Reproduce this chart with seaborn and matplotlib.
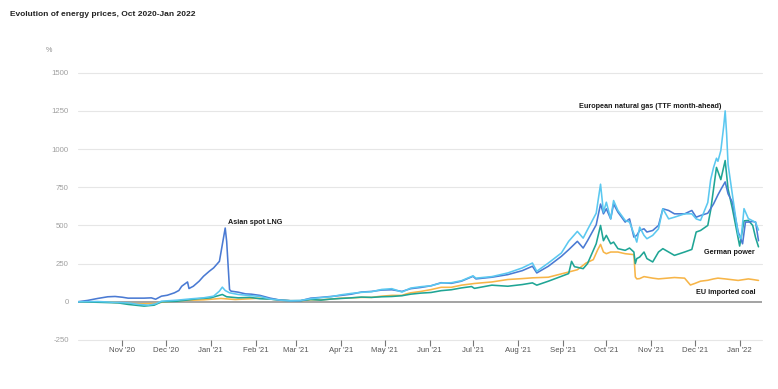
import numpy as np
import pandas as pd
import matplotlib
matplotlib.use("Agg")
import matplotlib.pyplot as plt
import seaborn as sns

# ---------------- data (values in % change) ----------------
lng_dates = ["2020-10-01", "2020-10-08", "2020-10-15", "2020-10-22", "2020-10-27", "2020-11-01",
             "2020-11-05", "2020-11-16", "2020-11-21", "2020-11-24", "2020-11-28", "2020-12-02",
             "2020-12-07", "2020-12-10", "2020-12-12", "2020-12-16", "2020-12-17", "2020-12-20",
             "2020-12-24", "2020-12-27", "2020-12-31", "2021-01-03", "2021-01-07", "2021-01-09",
             "2021-01-11", "2021-01-12", "2021-01-14", "2021-01-15", "2021-01-20", "2021-01-25",
             "2021-01-29", "2021-02-04", "2021-02-11", "2021-02-18", "2021-02-25", "2021-03-04",
             "2021-03-11", "2021-03-18", "2021-03-25", "2021-04-01", "2021-04-08", "2021-04-15",
             "2021-04-22", "2021-04-29", "2021-05-06", "2021-05-13", "2021-05-19", "2021-05-26",
             "2021-06-02", "2021-06-09", "2021-06-16", "2021-06-23", "2021-07-01", "2021-07-03",
             "2021-07-14", "2021-07-25", "2021-08-04", "2021-08-11", "2021-08-14", "2021-08-22",
             "2021-08-31", "2021-09-05", "2021-09-11", "2021-09-15", "2021-09-18", "2021-09-24",
             "2021-09-27", "2021-09-29", "2021-10-01", "2021-10-04", "2021-10-06", "2021-10-09",
             "2021-10-14", "2021-10-17", "2021-10-20", "2021-10-22", "2021-10-24", "2021-10-27",
             "2021-10-29", "2021-11-02", "2021-11-06", "2021-11-09", "2021-11-13", "2021-11-17",
             "2021-11-24", "2021-11-29", "2021-12-02", "2021-12-05", "2021-12-10", "2021-12-14",
             "2021-12-17", "2021-12-19", "2021-12-22", "2021-12-24", "2021-12-27", "2021-12-31",
             "2022-01-03", "2022-01-05", "2022-01-07", "2022-01-10", "2022-01-12", "2022-01-14"]
lng_values = [0, 9, 22, 33, 35, 30,
              24, 24, 26, 17, 37, 43,
              59, 74, 102, 130, 87, 102,
              135, 167, 200, 222, 265, 374,
              483, 396, 80, 70, 63, 52,
              50, 42, 24, 11, 7, 7,
              24, 29, 35, 42, 50, 64,
              68, 77, 79, 68, 86, 94,
              105, 125, 121, 135, 167, 150,
              161, 178, 204, 233, 189, 233,
              298, 341, 396, 352, 400, 504,
              640, 576, 609, 543, 641, 587,
              522, 543, 424, 435, 467, 478,
              457, 467, 500, 609, 598, 576,
              576, 598, 554, 565, 580, 641,
              700, 735, 785, 707, 652, 457,
              380, 522, 522, 526, 522, 400]

ttf_dates = ["2020-10-01", "2020-10-15", "2020-10-24", "2020-11-05", "2020-11-12", "2020-11-19",
             "2020-11-24", "2020-11-28", "2020-12-09", "2020-12-19", "2020-12-27", "2021-01-03",
             "2021-01-07", "2021-01-09", "2021-01-11", "2021-01-14", "2021-01-20", "2021-01-29",
             "2021-02-04", "2021-02-11", "2021-02-18", "2021-02-25", "2021-03-04", "2021-03-11",
             "2021-03-18", "2021-03-25", "2021-04-01", "2021-04-08", "2021-04-15", "2021-04-22",
             "2021-04-29", "2021-05-06", "2021-05-13", "2021-05-19", "2021-05-26", "2021-06-02",
             "2021-06-09", "2021-06-16", "2021-06-23", "2021-07-01", "2021-07-03", "2021-07-14",
             "2021-07-25", "2021-08-04", "2021-08-11", "2021-08-14", "2021-08-22", "2021-08-31",
             "2021-09-05", "2021-09-11", "2021-09-15", "2021-09-18", "2021-09-24", "2021-09-27",
             "2021-09-29", "2021-10-01", "2021-10-04", "2021-10-06", "2021-10-09", "2021-10-14",
             "2021-10-17", "2021-10-20", "2021-10-22", "2021-10-24", "2021-10-27", "2021-10-29",
             "2021-11-02", "2021-11-06", "2021-11-09", "2021-11-13", "2021-11-17", "2021-11-24",
             "2021-11-29", "2021-12-02", "2021-12-05", "2021-12-10", "2021-12-12", "2021-12-14",
             "2021-12-16", "2021-12-17", "2021-12-19", "2021-12-21", "2021-12-22", "2021-12-23",
             "2021-12-24", "2021-12-27", "2021-12-31", "2022-01-02", "2022-01-04", "2022-01-07",
             "2022-01-10", "2022-01-12", "2022-01-14"]
ttf_values = [0, 2, -2, -7, -17, -22,
              -13, 4, 11, 20, 26, 37,
              70, 96, 74, 59, 48, 40,
              35, 18, 11, 7, 9, 20,
              27, 33, 46, 55, 62, 66,
              81, 86, 64, 90, 99, 105,
              123, 125, 138, 170, 155, 165,
              189, 222, 254, 200, 254, 320,
              396, 461, 417, 472, 580, 770,
              587, 652, 543, 663, 598, 533,
              522, 446, 391, 489, 435, 413,
              435, 478, 609, 543, 554, 576,
              576, 543, 533, 650, 800, 880,
              940, 920, 990, 1150, 1250, 1100,
              900, 700, 440, 413, 610, 545,
              530, 520, 470]

power_dates = ["2020-10-01", "2020-10-15", "2020-10-29", "2020-11-05", "2020-11-16", "2020-11-23",
               "2020-11-28", "2020-12-09", "2020-12-23", "2021-01-01", "2021-01-09", "2021-01-12",
               "2021-01-20", "2021-01-28", "2021-02-04", "2021-02-11", "2021-02-18", "2021-02-25",
               "2021-03-04", "2021-03-11", "2021-03-18", "2021-03-25", "2021-04-01", "2021-04-08",
               "2021-04-15", "2021-04-22", "2021-04-29", "2021-05-06", "2021-05-13", "2021-05-19",
               "2021-05-26", "2021-06-02", "2021-06-09", "2021-06-16", "2021-06-23", "2021-06-30",
               "2021-07-02", "2021-07-14", "2021-07-25", "2021-08-04", "2021-08-11", "2021-08-14",
               "2021-08-22", "2021-08-31", "2021-09-05", "2021-09-07", "2021-09-09", "2021-09-11",
               "2021-09-15", "2021-09-18", "2021-09-24", "2021-09-27", "2021-09-29", "2021-10-01",
               "2021-10-04", "2021-10-06", "2021-10-09", "2021-10-14", "2021-10-17", "2021-10-20",
               "2021-10-21", "2021-10-22", "2021-10-24", "2021-10-27", "2021-10-29", "2021-11-02",
               "2021-11-06", "2021-11-09", "2021-11-13", "2021-11-17", "2021-11-24", "2021-11-29",
               "2021-12-02", "2021-12-05", "2021-12-10", "2021-12-12", "2021-12-16", "2021-12-19",
               "2021-12-22", "2021-12-24", "2021-12-27", "2022-01-01", "2022-01-04", "2022-01-07",
               "2022-01-10", "2022-01-12", "2022-01-14"]
power_values = [0, -3, -7, -17, -28, -22,
                0, 4, 20, 26, 48, 33,
                26, 29, 20, 18, 11, 7,
                7, 15, 11, 18, 22, 26,
                31, 29, 33, 35, 40, 50,
                57, 61, 73, 79, 91, 100,
                88, 109, 102, 113, 124, 109,
                135, 167, 185, 265, 230, 226,
                217, 250, 380, 500, 400, 435,
                380, 391, 348, 337, 352, 326,
                250, 283, 293, 326, 283, 261,
                326, 348, 326, 304, 326, 343,
                457, 467, 500, 600, 880, 800,
                925, 739, 609, 365, 530, 533,
                500, 420, 360]

coal_dates = ["2020-10-01", "2020-10-24", "2020-11-05", "2020-11-16", "2020-11-23", "2020-11-30",
              "2020-12-14", "2020-12-27", "2021-01-08", "2021-01-18", "2021-01-28", "2021-02-04",
              "2021-02-11", "2021-02-18", "2021-02-25", "2021-03-04", "2021-03-11", "2021-03-18",
              "2021-03-25", "2021-04-01", "2021-04-08", "2021-04-15", "2021-04-22", "2021-04-29",
              "2021-05-06", "2021-05-13", "2021-05-16", "2021-05-19", "2021-05-26", "2021-06-02",
              "2021-06-09", "2021-06-16", "2021-06-23", "2021-07-02", "2021-07-14", "2021-07-25",
              "2021-08-04", "2021-08-11", "2021-08-22", "2021-08-31", "2021-09-05", "2021-09-11",
              "2021-09-17", "2021-09-22", "2021-09-25", "2021-09-27", "2021-09-29", "2021-10-01",
              "2021-10-04", "2021-10-09", "2021-10-14", "2021-10-20", "2021-10-21", "2021-10-22",
              "2021-10-24", "2021-10-27", "2021-11-02", "2021-11-06", "2021-11-17", "2021-11-24",
              "2021-11-28", "2021-12-01", "2021-12-05", "2021-12-10", "2021-12-14", "2021-12-17",
              "2021-12-22", "2021-12-31", "2022-01-07", "2022-01-10", "2022-01-14"]
coal_values = [0, -2, -11, -13, -11, 0,
               9, 13, 22, 15, 20, 24,
               18, 11, 7, 7, 13, 13,
               18, 24, 26, 29, 29, 37,
               42, 42, 52, 59, 68, 80,
               95, 95, 109, 120, 130, 146,
               152, 157, 161, 183, 195, 210,
               254, 276, 340, 376, 326, 315,
               326, 326, 315, 309, 163, 150,
               152, 165, 155, 150, 159, 155,
               110, 120, 135, 141, 150, 155,
               150, 140, 150, 146, 140]

series_names = ["EU imported coal", "German power", "Asian spot LNG",
                "European natural gas (TTF month-ahead)"]
series_colors = ["#F7B548", "#1FA595", "#4A7AD3", "#5BC8F0"]

month_ticks = ["2020-11-01", "2020-12-01", "2021-01-01", "2021-02-01", "2021-03-01", "2021-04-01",
               "2021-05-01", "2021-06-01", "2021-07-01", "2021-08-01", "2021-09-01", "2021-10-01",
               "2021-11-01", "2021-12-01", "2022-01-01"]
month_labels = ["Nov '20", "Dec '20", "Jan '21", "Feb '21", "Mar '21", "Apr '21", "May '21",
                "Jun '21", "Jul '21", "Aug '21", "Sep '21", "Oct '21", "Nov '21", "Dec '21",
                "Jan '22"]
y_ticks = [-250, 0, 250, 500, 750, 1000, 1250, 1500]

# ---------------- build long table ----------------
frames = []
for name, d, v in [("EU imported coal", coal_dates, coal_values),
                   ("German power", power_dates, power_values),
                   ("Asian spot LNG", lng_dates, lng_values),
                   ("European natural gas (TTF month-ahead)", ttf_dates, ttf_values)]:
    frames.append(pd.DataFrame({"date": pd.to_datetime(d), "value": v, "series": name}))
df = pd.concat(frames, ignore_index=True)

# ---------------- figure ----------------
sns.set_style("white")
plt.rcParams["font.family"] = ["Liberation Sans", "DejaVu Sans"]

fig = plt.figure(figsize=(7.78, 3.89), dpi=100)
ax = fig.add_axes([78 / 778, 1 - 340 / 389, (762 - 78) / 778, (340 - 72.7) / 389])

for yt in y_ticks:
    if yt == 0:
        continue
    ax.axhline(yt, color="#e6e6e6", lw=0.8, zorder=0, clip_on=False)
ax.axhline(0, color="#8a8a8a", lw=1.1, zorder=1)

sns.lineplot(data=df, x="date", y="value", hue="series", hue_order=series_names,
             palette=dict(zip(series_names, series_colors)), estimator=None,
             linewidth=1.15, legend=False, ax=ax, zorder=3)

ax.set_xlim(pd.Timestamp("2020-10-01 10:00"), pd.Timestamp("2022-01-16 10:00"))
ax.set_ylim(-250, 1500)
ax.set_yticks(y_ticks)
ax.set_yticklabels([str(t) for t in y_ticks])
ax.set_xticks(pd.to_datetime(month_ticks))
ax.set_xticklabels(month_labels)
ax.set_xlabel("")
ax.set_ylabel("")
for s in ax.spines.values():
    s.set_visible(False)
ax.tick_params(axis="y", left=False, length=0, pad=6.5, labelsize=5.6, labelcolor="#a0a0a0")
ax.tick_params(axis="x", bottom=True, length=4, width=0.8, color="#777777", pad=1.0,
               labelsize=5.6, labelcolor="#555555", direction="out")
ax.grid(False)

# annotations
ann_kw = dict(fontsize=5.2, fontweight="bold", color="#1a1a1a", va="center")
fig.text(228.5 / 778, 1 - 222 / 389, "Asian spot LNG", ha="left", **ann_kw)
fig.text(650.5 / 778, 1 - 106.3 / 389, "European natural gas (TTF month-ahead)", ha="center", **ann_kw)
fig.text(755 / 778, 1 - 252.3 / 389, "German power", ha="right", **ann_kw)
fig.text(756 / 778, 1 - 293 / 389, "EU imported coal", ha="right", **ann_kw)

fig.text(10 / 778, 1 - 14 / 389, "Evolution of energy prices, Oct 2020-Jan 2022", fontsize=6.0,
         fontweight="bold", color="#222222", ha="left", va="center")
fig.text(48.5 / 778, 1 - 50 / 389, "%", fontsize=5.2, color="#888888", ha="center", va="center")

fig.savefig("out.png", dpi=100, facecolor="white")
